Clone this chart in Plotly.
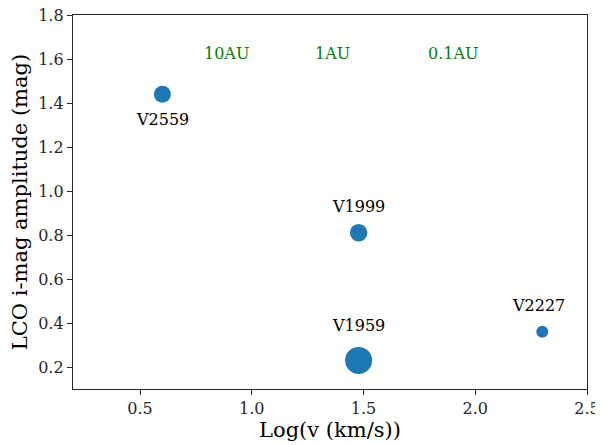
import plotly.graph_objects as go

names = ["V2559", "V1999", "V1959", "V2227"]
log_v = [0.60, 1.478, 1.478, 2.30]
amp = [1.44, 0.81, 0.23, 0.36]
marker_diam = [17, 17.5, 27, 12]
label_dy = [-25, 26, 35, 26]
label_dx = [0, 0, 0, -4]

au_labels = ["10AU", "1AU", "0.1AU"]
au_x = [0.885, 1.36, 1.90]
au_y = [1.625, 1.625, 1.625]

xticks = [0.5, 1.0, 1.5, 2.0, 2.5]
yticks = [0.2, 0.4, 0.6, 0.8, 1.0, 1.2, 1.4, 1.6, 1.8]

FONT = "DejaVu Serif"
INK = "#262626"

fig = go.Figure()
fig.add_trace(go.Scatter(
    x=log_v, y=amp, mode="markers",
    marker=dict(size=marker_diam, color="#1f77b4", opacity=1, line=dict(width=0)),
    showlegend=False, hoverinfo="skip"))

annotations = []
for n, x, y, dy, dx in zip(names, log_v, amp, label_dy, label_dx):
    annotations.append(dict(x=x, y=y, text=n, showarrow=False, xref="x", yref="y",
                            yshift=dy, xshift=dx, font=dict(family=FONT, size=16, color="black")))
for t, x, y in zip(au_labels, au_x, au_y):
    annotations.append(dict(x=x, y=y, text=t, showarrow=False, xref="x", yref="y",
                            font=dict(family=FONT, size=16, color="green")))

axis_common = dict(showline=True, linecolor=INK, linewidth=1.3, mirror=True,
                   ticks="outside", ticklen=5, tickwidth=1.2, tickcolor=INK,
                   showgrid=False, zeroline=False, automargin=False,
                   ticklabeloverflow="allow",
                   tickfont=dict(family=FONT, size=16, color=INK))

fig.update_layout(
    template="none",
    width=595, height=437,
    margin=dict(l=65, r=16, t=7, b=56),
    paper_bgcolor="white", plot_bgcolor="white",
    annotations=annotations,
    xaxis=dict(range=[0.2, 2.5], tickvals=xticks, ticktext=[f"{v:.1f}" for v in xticks],
               title=dict(text="Log(v (km/s))", font=dict(family=FONT, size=21, color="black"), standoff=4),
               **axis_common),
    yaxis=dict(range=[0.1, 1.8], tickvals=yticks, ticktext=[f"{v:.1f}" for v in yticks],
               title=dict(text="LCO i-mag amplitude (mag)", font=dict(family=FONT, size=21, color="black"), standoff=6),
               **axis_common),
)

fig.write_html("out.html")
